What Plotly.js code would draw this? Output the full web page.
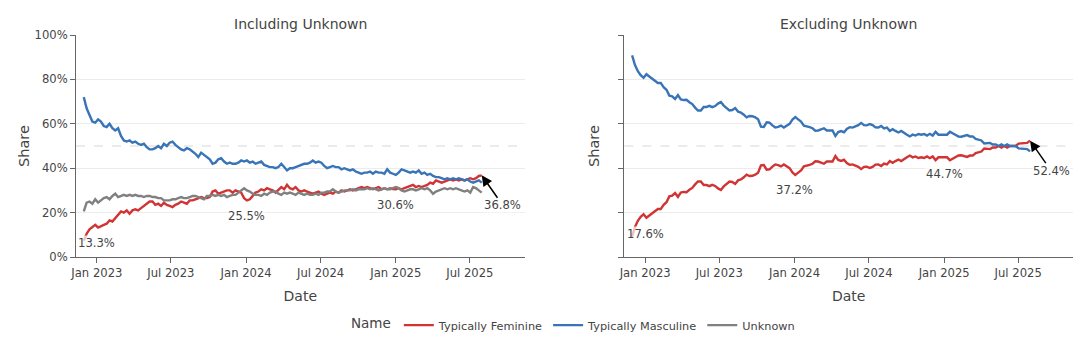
<!DOCTYPE html>
<html>
<head>
<meta charset="utf-8">
<script src="https://cdn.plot.ly/plotly-3.0.1.min.js"></script>
<style>html,body{margin:0;padding:0;background:#fff;}#chart{width:1080px;height:338px;}</style>
</head>
<body>
<div id="chart"></div>
<script>
// Weekly observations starting at this date
const startDate = "2022-11-30";
const seriesNames = ["Typically Feminine", "Typically Masculine", "Unknown"];
const panelTitles = ["Including Unknown", "Excluding Unknown"];
const xTickLabels = ["Jan 2023", "Jul 2023", "Jan 2024", "Jul 2024", "Jan 2025", "Jul 2025"];
const yTickLabels = ["0%", "20%", "40%", "60%", "80%", "100%"];
const yTitle = "Share";
const xTitle = "Date";

// Left panel: share including unknown (%)
const femIncl = [
  7.3, 10.5, 12.5, 13.5, 14.5, 13.3, 14, 14.5, 15, 16.5,
  16, 17.5, 19, 20.5, 20, 21, 19.5, 21, 21.5, 21,
  22, 23, 24, 25, 25, 23.5, 24, 23, 24.5, 23.5,
  23, 22.5, 23.5, 24, 25, 24.5, 24, 25.5, 25.5, 26,
  26.5, 27, 26.5, 26.5, 27, 29.5, 30, 28.5, 29, 29.5,
  30, 30, 29, 30, 29.5, 29, 26.5, 25.5, 26, 27.5,
  29, 29.5, 30.5, 30, 31, 30.5, 30, 29, 30.5, 31.5,
  30.5, 32.5, 31, 30.5, 31.5, 30, 29.5, 30, 29.5, 29,
  28.5, 29, 29.5, 28.5, 28, 28.5, 29, 28.5, 29.5, 29,
  30, 29.5, 30, 30.5, 30, 30.5, 31, 31.5, 31, 31.5,
  31, 30.5, 31, 31.5, 30.5, 31, 30.5, 31, 30.6, 30.5,
  31, 30.5, 31, 31.5, 32, 32.5, 31.5, 32, 31.5, 32,
  32.5, 33.5, 33, 34.5, 34, 33.5, 34, 34.5, 35, 34.5,
  35, 34.5, 35, 34.5, 35, 35.5, 35, 35.5, 36.5, 36.8
];
const mascIncl = [
  72, 67, 64, 61, 60.5, 62, 61, 59, 58.5, 60,
  58, 57, 58, 54.5, 52.5, 52, 52.5, 51.5, 52, 51,
  50.5, 51, 49.5, 48.5, 48.5, 49, 50, 49, 51, 50,
  51.5, 52, 50.5, 49.5, 48.5, 48, 49, 48.5, 47.5, 46.5,
  45, 47, 46, 45, 44, 42, 42.5, 44, 44.5, 43,
  42, 42.5, 42, 42, 42.5, 43.5, 43, 43.5, 42.5, 43,
  42, 42.5, 43, 41.5, 41, 40.5, 40.5, 40, 40.5, 42,
  40.5, 39, 40, 40, 40.5, 41, 41.5, 42, 42, 42.5,
  43.5, 42.5, 43, 42.5, 41, 40, 40.5, 41, 40.5, 40.5,
  39.5, 40, 39.5, 39, 39.5, 38.5, 38, 37.5, 38, 38,
  38.5, 37.5, 38.5, 38, 38, 37.5, 39.5, 38, 37.5, 37,
  38, 39.5, 39, 38.5, 38, 38.5, 38, 39, 37.5, 38,
  37, 37.5, 36.5, 36, 36, 35.5, 35, 35.5, 35, 35.5,
  35, 35.5, 35, 34.5, 35, 34, 33.5, 34, 34.5, 33.5
];
const unknownIncl = [
  20.5, 24.5, 25, 24, 26, 24.5, 25.5, 26.5, 27, 26,
  27.5, 28.5, 27, 27.5, 28, 27.5, 28, 27.5, 28, 27.5,
  27.5, 27, 27.5, 27.5, 27, 27, 26.5, 26.5, 25.5, 25.5,
  25.5, 26, 26, 26.5, 27, 26.5, 26.5, 27, 27.5, 27.5,
  27, 26.5, 26, 27.5, 27.5, 28, 27.5, 28, 27.5, 28,
  27, 27.5, 28, 28, 29, 30, 31, 30, 29.5, 28.5,
  28, 28, 27.5, 28.5, 28, 29, 29.5, 29.5, 28.5, 28,
  29, 28.5, 29, 28.5, 28, 29, 28.5, 28, 28.5, 28,
  28, 28.5, 28, 29, 29, 29.5, 29.5, 30.5, 29.5, 29,
  29.5, 30, 30, 30, 30.5, 30, 30.5, 30.5, 30.5, 31,
  30.5, 31, 30.5, 30, 30.5, 31, 30.5, 30.5, 31, 31.5,
  31, 30, 29.5, 30, 30.5, 30.5, 30, 30.5, 31, 30.5,
  31, 30, 28.5, 29.5, 30, 30.5, 31, 30.5, 31, 30.5,
  31, 30.5, 30, 29.5, 30, 29, 31.5, 31, 30, 29
];

// Right panel: share excluding unknown (%)
const femExcl = [
  9.2, 13.5, 16.3, 18.1, 19.3, 17.7, 18.7, 19.7, 20.4, 21.6,
  21.6, 23.5, 24.7, 27.3, 27.6, 28.8, 27.1, 29.0, 29.3, 29.2,
  30.3, 31.1, 32.7, 34.0, 34.0, 32.4, 32.4, 31.9, 32.5, 32.0,
  30.9, 30.2, 31.8, 32.7, 34.0, 33.8, 32.9, 34.5, 34.9, 35.9,
  37.1, 36.5, 36.6, 37.1, 38.0, 41.3, 41.4, 39.3, 39.5, 40.7,
  41.7, 41.4, 40.8, 41.7, 41.0, 40.0, 38.1, 37.0, 38.0, 39.0,
  40.8, 41.0, 41.5, 42.0, 43.1, 43.0, 42.6, 42.0, 43.0, 42.9,
  43.0, 45.5, 43.7, 43.3, 43.8, 42.3, 41.5, 41.7, 41.3, 40.6,
  39.6, 40.6, 40.7, 40.1, 40.6, 41.6, 41.7, 41.0, 42.1, 41.7,
  43.2, 42.4, 43.2, 43.9, 43.2, 44.2, 44.9, 45.7, 44.9, 45.3,
  44.6, 44.9, 44.6, 45.3, 44.5, 45.3, 43.6, 44.9, 44.9, 45.2,
  44.9, 43.6, 44.3, 45.0, 45.7, 45.8, 45.3, 45.1, 45.7, 45.7,
  46.8, 47.2, 47.5, 48.9, 48.6, 48.6, 49.3, 49.3, 50.0, 49.3,
  50.0, 49.3, 50.0, 50.0, 50.0, 51.1, 51.1, 51.1, 51.4, 52.4
];
const mascExcl = [
  90.8, 86.5, 83.7, 81.9, 80.7, 82.3, 81.3, 80.3, 79.6, 78.4,
  78.4, 76.5, 75.3, 72.7, 72.4, 71.2, 72.9, 71.0, 70.7, 70.8,
  69.7, 68.9, 67.3, 66.0, 66.0, 67.6, 67.6, 68.1, 67.5, 68.0,
  69.1, 69.8, 68.2, 67.3, 66.0, 66.2, 67.1, 65.5, 65.1, 64.1,
  62.9, 63.5, 63.4, 62.9, 62.0, 58.7, 58.6, 60.7, 60.5, 59.3,
  58.3, 58.6, 59.2, 58.3, 59.0, 60.0, 61.9, 63.0, 62.0, 61.0,
  59.2, 59.0, 58.5, 58.0, 56.9, 57.0, 57.4, 58.0, 57.0, 57.1,
  57.0, 54.5, 56.3, 56.7, 56.2, 57.7, 58.5, 58.3, 58.7, 59.4,
  60.4, 59.4, 59.3, 59.9, 59.4, 58.4, 58.3, 59.0, 57.9, 58.3,
  56.8, 57.6, 56.8, 56.1, 56.8, 55.8, 55.1, 54.3, 55.1, 54.7,
  55.4, 55.1, 55.4, 54.7, 55.5, 54.7, 56.4, 55.1, 55.1, 54.8,
  55.1, 56.4, 55.7, 55.0, 54.3, 54.2, 54.7, 54.9, 54.3, 54.3,
  53.2, 52.8, 52.5, 51.1, 51.4, 51.4, 50.7, 50.7, 50.0, 50.7,
  50.0, 50.7, 50.0, 50.0, 50.0, 48.9, 48.9, 48.9, 48.6, 47.6
];

// Labelled feminine values
const labelDates = ["2023-01-01", "2024-01-01", "2025-01-01"];
const labelsIncl = [13.3, 25.5, 30.6];
const labelsExcl = [17.6, 37.2, 44.7];
const lastIncl = 36.8;
const lastExcl = 52.4;

// ---------------------------------------------------------------
function weeklyDates(start, n) {
  const out = [];
  const d0 = new Date(start + "T00:00:00Z");
  for (let i = 0; i < n; i++) {
    const d = new Date(d0.getTime() + i * 7 * 86400000);
    out.push(d.toISOString().slice(0, 10));
  }
  return out;
}
const dates = weeklyDates(startDate, femIncl.length);
const lastDate = dates[dates.length - 1];

const colors = {"Typically Feminine": "rgb(208,52,52)", "Typically Masculine": "rgb(56,116,183)", "Unknown": "rgb(128,128,128)"};
const FONT = "DejaVu Sans, Verdana, sans-serif";
const TXT = "#444";

function tr(name, y, xa, ya, show) {
  return {type: "scatter", mode: "lines", name: name, x: dates, y: y,
    xaxis: xa, yaxis: ya, legendgroup: name, showlegend: show,
    line: {color: colors[name], width: 2.4}};
}
const data = [
  tr(seriesNames[0], femIncl, "x", "y", true),
  tr(seriesNames[1], mascIncl, "x", "y", true),
  tr(seriesNames[2], unknownIncl, "x", "y", true),
  tr(seriesNames[0], femExcl, "x2", "y2", false),
  tr(seriesNames[1], mascExcl, "x2", "y2", false)
];

const xRange = ["2022-11-11", "2025-11-12"];
function xax(domain, anchor) {
  return {domain: domain, anchor: anchor, type: "date", range: xRange,
    tickmode: "array", tickvals: ["2023-01-01","2023-07-01","2024-01-01","2024-07-01","2025-01-01","2025-07-01"],
    ticktext: xTickLabels, ticks: "outside", ticklen: 5, tickcolor: "#666",
    showline: true, linecolor: "#666", linewidth: 1, showgrid: false, zeroline: false,
    tickfont: {size: 11.6, color: TXT, family: FONT},
    title: {text: xTitle, font: {size: 14, color: TXT, family: FONT}, standoff: 12}};
}
function yax(anchor, labels) {
  return {anchor: anchor, domain: [0, 1], range: [0, 100],
    tickmode: "array", tickvals: [0, 20, 40, 60, 80, 100], ticktext: yTickLabels,
    showticklabels: labels, ticks: "outside", ticklen: 5, tickcolor: "#666",
    showline: true, linecolor: "#666", linewidth: 1,
    showgrid: true, gridcolor: "rgb(236,236,236)", gridwidth: 1, zeroline: false,
    tickfont: {size: 11.6, color: TXT, family: FONT}};
}

const annotations = [];
panelTitles.forEach((t, i) => {
  annotations.push({text: t, xref: "paper", yref: "paper", x: i === 0 ? 0.225 : 0.775, y: 1,
    xanchor: "center", yanchor: "bottom", yshift: 1, showarrow: false,
    font: {size: 14, color: TXT, family: FONT}});
});
// y-axis titles for both panels
[["x domain", 24], ["x2 domain", 594]].forEach(([xr, px]) => {
  annotations.push({text: yTitle, xref: "paper", yref: "paper", x: (px - 76) / 997, y: 0.5,
    xanchor: "center", yanchor: "middle", textangle: -90, showarrow: false,
    font: {size: 14.5, color: TXT, family: FONT}});
});
function pct(v) { return v.toFixed(1) + "%"; }
labelDates.forEach((d, i) => {
  annotations.push({xref: "x", yref: "y", x: d, y: labelsIncl[i], text: pct(labelsIncl[i]),
    showarrow: false, yshift: -16, bgcolor: "rgba(255,255,255,0.7)", borderpad: 0,
    font: {size: 11.6, color: TXT, family: FONT}});
  annotations.push({xref: "x2", yref: "y2", x: d, y: labelsExcl[i], text: pct(labelsExcl[i]),
    showarrow: false, yshift: -16, bgcolor: "rgba(255,255,255,0.7)", borderpad: 0,
    font: {size: 11.6, color: TXT, family: FONT}});
});
[["x", "y", lastIncl], ["x2", "y2", lastExcl]].forEach(([xa, ya, v]) => {
  annotations.push({xref: xa, yref: ya, x: lastDate, y: v, text: pct(v),
    showarrow: true, ax: 21, ay: 30, arrowhead: 2, arrowsize: 1.4, arrowwidth: 1.5, arrowcolor: "#000",
    bgcolor: "rgba(255,255,255,0.7)", borderpad: 0,
    font: {size: 11.6, color: TXT, family: FONT}});
});

const shapes = [["x", "y"], ["x2", "y2"]].map(([xa, ya]) => ({
  type: "line", xref: xa + " domain", yref: ya, x0: 0, x1: 1, y0: 50, y1: 50,
  line: {color: "rgb(215,215,215)", width: 1, dash: "dash"}, layer: "below"}));

const layout = {
  width: 1080, height: 338,
  margin: {l: 76, r: 7, t: 35, b: 81},
  paper_bgcolor: "#fff", plot_bgcolor: "#fff",
  font: {family: FONT, color: TXT, size: 12},
  xaxis: xax([0, 0.45], "y"),
  xaxis2: xax([0.55, 1], "y2"),
  yaxis: yax("x", true),
  yaxis2: yax("x2", false),
  showlegend: true,
  legend: {orientation: "h", x: 0.5, xanchor: "center", y: 0.038, yanchor: "middle", yref: "container",
    title: {text: "Name", font: {size: 13.5, color: TXT, family: FONT}},
    font: {size: 11.3, color: TXT, family: FONT}, itemwidth: 30, tracegroupgap: 0},
  annotations: annotations,
  shapes: shapes
};

Plotly.newPlot("chart", data, layout, {displayModeBar: false, staticPlot: true});
</script>
</body>
</html>
